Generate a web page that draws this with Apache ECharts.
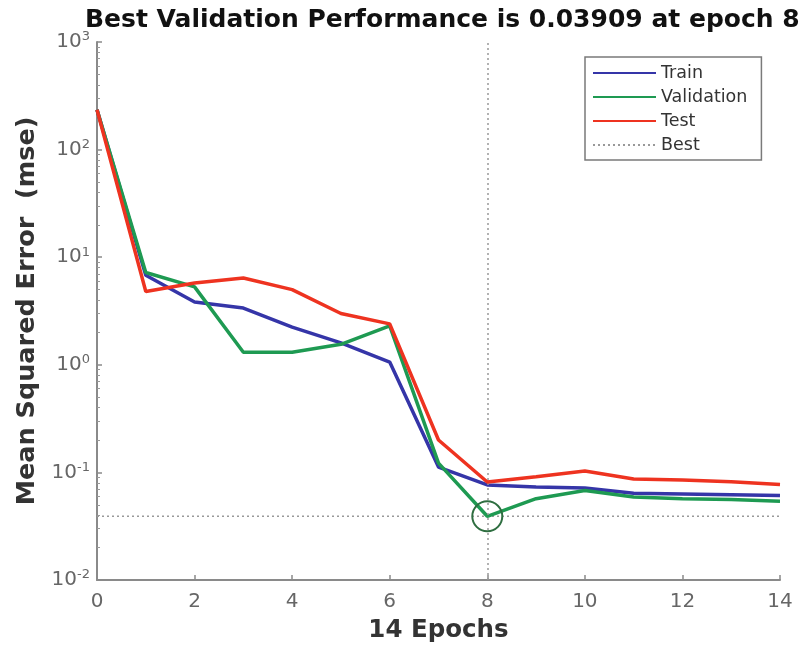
<!DOCTYPE html>
<html>
<head>
<meta charset="utf-8">
<script src="https://cdn.jsdelivr.net/npm/echarts@6/dist/echarts.min.js"></script>
<style>
  html, body { margin: 0; padding: 0; background: #fff; }
  #chart { width: 803px; height: 650px; }
</style>
</head>
<body>
<div id="chart"></div>
<script>
// Training record: mean squared error per epoch
const epochs = [0, 1, 2, 3, 4, 5, 6, 7, 8, 9, 10, 11, 12, 13, 14];
const trainMse = [235, 6.8, 3.84, 3.37, 2.24, 1.6, 1.06, 0.112, 0.0764, 0.073, 0.0716, 0.064, 0.063, 0.062, 0.061];
const validationMse = [235, 7.2, 5.3, 1.31, 1.31, 1.55, 2.3, 0.122, 0.03909, 0.057, 0.068, 0.059, 0.057, 0.056, 0.054];
const testMse = [235, 4.8, 5.75, 6.4, 5.0, 3.0, 2.4, 0.2, 0.0815, 0.091, 0.103, 0.087, 0.085, 0.082, 0.077];
const bestEpoch = 8;
const bestValue = 0.03909;
const yTickExponents = [-2, -1, 0, 1, 2, 3];
const xTicks = [0, 2, 4, 6, 8, 10, 12, 14];

const pairs = (vals) => epochs.map((e, i) => [e, vals[i]]);
const font = 'DejaVu Sans';
const grey = '#8a8a8a';

const chart = echarts.init(document.getElementById('chart'));
chart.setOption({
  animation: false,
  backgroundColor: '#ffffff',
  title: {
    text: 'Best Validation Performance is ' + bestValue + ' at epoch ' + bestEpoch,
    left: 80, top: 3,
    textStyle: { fontFamily: font, fontWeight: 'bold', fontSize: 25, color: '#111' }
  },
  grid: { left: 97, right: 23, top: 42, bottom: 70 },
  legend: {
    orient: 'vertical',
    left: 585, top: 57,
    padding: [7, 14, 6, 7],
    itemWidth: 63, itemHeight: 10, itemGap: 6,
    backgroundColor: '#fff',
    borderColor: '#7a7a7a', borderWidth: 1.5,
    itemStyle: { opacity: 0 },
    textStyle: { fontFamily: font, fontSize: 17.5, color: '#333' },
    data: ['Train', 'Validation', 'Test', 'Best']
  },
  xAxis: {
    type: 'value', min: 0, max: 14, interval: 2,
    name: epochs.length - 1 + ' Epochs', nameLocation: 'middle', nameGap: 38,
    nameTextStyle: { fontFamily: font, fontWeight: 'bold', fontSize: 24.5, color: '#333' },
    axisLine: { lineStyle: { color: grey, width: 2 } },
    axisTick: { inside: true, length: 5, lineStyle: { color: grey, width: 1.5 } },
    axisLabel: {
      fontFamily: font, fontSize: 20, color: '#666', margin: 12,
      formatter: (v) => xTicks.includes(v) ? String(v) : ''
    },
    splitLine: { show: false }
  },
  yAxis: {
    type: 'log', logBase: 10,
    min: Math.pow(10, yTickExponents[0]),
    max: Math.pow(10, yTickExponents[yTickExponents.length - 1]),
    name: 'Mean Squared Error  (mse)', nameLocation: 'middle', nameGap: 56,
    nameTextStyle: { fontFamily: font, fontWeight: 'bold', fontSize: 25.5, color: '#333' },
    axisLine: { lineStyle: { color: grey, width: 2 } },
    axisTick: { inside: true, length: 5, lineStyle: { color: grey, width: 1.5 } },
    minorTick: { show: true, splitNumber: 9, length: 3, lineStyle: { color: '#999', width: 1 } },
    axisLabel: {
      margin: 7,
      formatter: (v) => {
        const e = Math.round(Math.log10(v));
        return '{b|10}{s|' + e + '}';
      },
      rich: {
        b: { fontFamily: font, fontSize: 20, color: '#666' },
        s: { fontFamily: font, fontSize: 13, color: '#666', verticalAlign: 'top', padding: [0, 0, 10, 0] }
      }
    },
    splitLine: { show: false }
  },
  series: [
    {
      name: 'Train', type: 'line', data: pairs(trainMse), symbol: 'none',
      lineStyle: { color: '#3535a8', width: 3.5 }, itemStyle: { color: '#3535a8' }, z: 3
    },
    {
      name: 'Validation', type: 'line', data: pairs(validationMse), symbol: 'none',
      lineStyle: { color: '#1e9a52', width: 3.5 }, itemStyle: { color: '#1e9a52' }, z: 4,
      markPoint: {
        silent: true,
        symbol: 'circle', symbolSize: 30,
        itemStyle: { color: 'rgba(0,0,0,0)', borderColor: '#2e6e40', borderWidth: 2 },
        label: { show: false },
        data: [{ coord: [bestEpoch, bestValue] }]
      }
    },
    {
      name: 'Test', type: 'line', data: pairs(testMse), symbol: 'none',
      lineStyle: { color: '#ee3320', width: 3.5 }, itemStyle: { color: '#ee3320' }, z: 5
    },
    {
      name: 'Best', type: 'line', symbol: 'none',
      data: [[epochs[0], bestValue], [epochs[epochs.length - 1], bestValue]],
      lineStyle: { color: '#999', width: 1.5, type: [2, 3] }, itemStyle: { color: '#999' }, z: 1,
      markLine: {
        silent: true, symbol: 'none', label: { show: false },
        lineStyle: { color: '#999', width: 1.5, type: [2, 3] },
        data: [{ xAxis: bestEpoch }]
      }
    }
  ]
});
</script>
</body>
</html>
